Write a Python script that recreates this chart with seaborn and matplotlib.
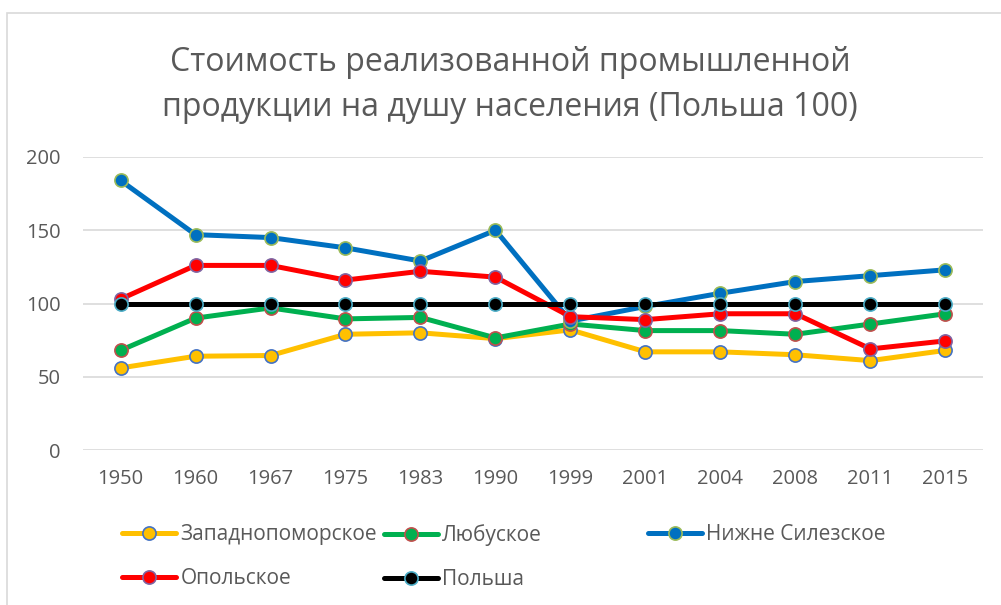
import matplotlib
matplotlib.use("Agg")
import matplotlib.pyplot as plt
import seaborn as sns
from matplotlib.patches import Rectangle

# Data
years = ["1950", "1960", "1967", "1975", "1983", "1990", "1999",
         "2001", "2004", "2008", "2011", "2015"]
zachodniopomorskie = [56, 64, 64.5, 79, 80, 76, 82, 67, 67, 65, 61, 68]
lubuskie = [68, 90, 97, 89.5, 90.5, 76.5, 86, 81.5, 81.5, 79, 86, 93]
dolnoslaskie = [184, 147, 145, 138, 129, 150, 88, 98, 107, 115, 119, 123]
opolskie = [103, 126, 126, 116, 122, 118, 91, 89, 93, 93, 69, 74.5]
polska = [100] * 12

labels = ["Западнопоморское", "Любуское", "Нижне Силезское", "Опольское", "Польша"]
series = [zachodniopomorskie, lubuskie, dolnoslaskie, opolskie, polska]
line_colors = ["#FFC000", "#00B050", "#0070C0", "#FF0000", "#000000"]
edge_colors = ["#4472C4", "#C0504D", "#9BBB59", "#8064A2", "#4BACC6"]

title = "Стоимость реализованной промышленной\nпродукции на душу населения (Польша 100)"
text_color = "#595959"
grid_color = "#D9D9D9"

sns.set_style("white")
plt.rcParams["font.family"] = ["Open Sans", "DejaVu Sans"]

W, H = 1001, 605
fig = plt.figure(figsize=(W / 100, H / 100), dpi=100)
ax = fig.add_axes([83 / W, (H - 450) / H, 900 / W, 293 / H])

handles = []
for lab, vals, lc, ec in zip(labels, series, line_colors, edge_colors):
    sns.lineplot(x=years, y=vals, ax=ax, color=lc, linewidth=3.6,
                 marker="o", markersize=9.5, markerfacecolor=lc,
                 markeredgecolor=ec, markeredgewidth=1.2, label=lab,
                 legend=False, sort=False)
    handles.append(ax.lines[-1])

ax.set_xlim(-0.5, len(years) - 0.5)
ax.set_ylim(0, 200)
ax.set_yticks([0, 50, 100, 150, 200])
ax.set_xlabel("")
ax.set_ylabel("")
ax.yaxis.grid(True, color=grid_color, linewidth=1.2)
ax.set_axisbelow(True)
for sp in ax.spines.values():
    sp.set_visible(False)
ax.tick_params(axis="both", length=0, labelsize=14.5, labelcolor=text_color)
ax.tick_params(axis="y", pad=16)
ax.tick_params(axis="x", pad=14)

fig.text(510 / W, 1 - 85 / H, title, ha="center", va="center",
         fontsize=23, color=text_color, linespacing=1.45)

# legend laid out like Excel: three equal-width columns, row-major order
cols = [[0, 3], [1, 4], [2]]
col_x = [122, 384, 648]
for idx, x0 in zip(cols, col_x):
    fig.legend([handles[i] for i in idx], [labels[i] for i in idx],
               loc="upper left", bbox_to_anchor=(x0 / W, 1 - 524 / H),
               frameon=False, borderpad=0, borderaxespad=0, ncol=1,
               fontsize=15, labelcolor=text_color, handlelength=2.6,
               handletextpad=0.2, labelspacing=1.1)

fig.add_artist(Rectangle((7 / W, -0.1), 1.2, 1.1 - 13 / H,
                         transform=fig.transFigure, fill=False,
                         edgecolor=grid_color, linewidth=1.2))

fig.savefig("out.png", dpi=100)
